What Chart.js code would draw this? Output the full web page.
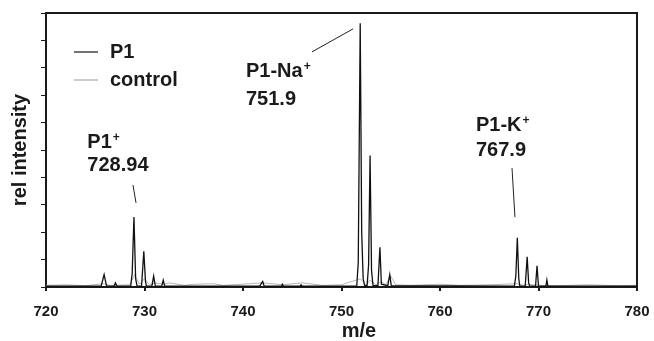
<!DOCTYPE html>
<html>
<head>
<meta charset="utf-8">
<script src="https://cdn.jsdelivr.net/npm/chart.js@4.4.1/dist/chart.umd.min.js"></script>
<style>
  body { margin: 0; background: #fff; }
  canvas { display: block; }
</style>
</head>
<body>
<canvas id="spectrum" width="654" height="341"></canvas>
<script>
// m/e values and relative intensities
const p1Mz = [720, 725.6, 725.9, 726.15, 726.9, 727.05, 727.2, 728.6, 728.75, 728.93, 729.1, 729.25,
  729.7, 729.93, 730.1, 730.2, 730.75, 730.93, 731.1, 731.75, 731.9, 732.05,
  741.7, 741.85, 742.0, 742.15, 743.9, 744.0, 744.1, 745.8, 745.9, 746.0,
  751.55, 751.7, 751.9, 752.05, 752.2, 752.35, 752.6, 752.75, 752.9, 753.05, 753.2,
  753.7, 753.9, 754.05, 754.7, 754.9, 755.05,
  767.55, 767.7, 767.85, 768.0, 768.1, 768.65, 768.85, 769.0, 769.1,
  769.7, 769.85, 770.0, 770.75, 770.85, 770.95, 780];
const p1Int = [0.03, 0.03, 0.45, 0.03, 0.03, 0.15, 0.03, 0.03, 0.5, 2.55, 0.3, 0.03,
  0.03, 1.3, 0.2, 0.03, 0.03, 0.4, 0.03, 0.03, 0.25, 0.03,
  0.03, 0.12, 0.2, 0.03, 0.03, 0.1, 0.03, 0.03, 0.08, 0.03,
  0.03, 0.9, 9.63, 2.0, 0.3, 0.05, 0.05, 0.8, 4.8, 0.6, 0.05,
  0.05, 1.45, 0.1, 0.05, 0.45, 0.05,
  0.03, 0.4, 1.8, 0.3, 0.03, 0.03, 1.1, 0.15, 0.03,
  0.03, 0.77, 0.03, 0.03, 0.25, 0.03, 0.03];

const controlMz = [720, 722, 724, 725.9, 726.5, 728.5, 729, 729.5, 730, 730.5, 731, 732, 732.5,
  734, 735, 737, 738, 742, 744, 746, 748, 750, 751.9, 752.5, 752.9, 753.5, 754, 754.5,
  755, 755.5, 757, 760, 762, 765, 767.8, 768.5, 769, 770, 772, 775, 778, 780];
const controlInt = [0.06, 0.08, 0.05, 0.12, 0.06, 0.08, 0.45, 0.1, 0.3, 0.08, 0.15, 0.1, 0.15,
  0.06, 0.1, 0.12, 0.06, 0.15, 0.08, 0.15, 0.06, 0.08, 0.3, 0.08, 0.25, 0.08, 0.2, 0.08,
  0.4, 0.08, 0.06, 0.1, 0.06, 0.08, 0.12, 0.06, 0.1, 0.06, 0.05, 0.08, 0.05, 0.06];

const xTicks = [720, 730, 740, 750, 760, 770, 780];

// peak labels: text lines and their position in data units
const peakLabels = [
  { lines: ['P1', '728.94'], sup: '+', x: 724.2, y: [5.26, 4.42] },
  { lines: ['P1-Na', '751.9'], sup: '+', x: 740.3, y: [7.85, 6.86] },
  { lines: ['P1-K', '767.9'], sup: '+', x: 763.65, y: [5.9, 4.98] }
];
const leaders = [
  [728.83, 3.72, 729.14, 3.07],
  [747.0, 8.58, 751.17, 9.42],
  [767.31, 4.34, 767.61, 2.55]
];

const ink = '#1a1a1a';
const FONT = 'Liberation Sans, Arial, sans-serif';

const toPts = (xs, ys) => xs.map((x, i) => ({ x: x, y: ys[i] }));

const decorations = {
  id: 'decorations',
  afterDraw(chart) {
    const ctx = chart.ctx;
    const a = chart.chartArea;
    const xs = chart.scales.x, ys = chart.scales.y;
    ctx.save();
    // frame top and right
    ctx.strokeStyle = ink;
    ctx.lineWidth = 2;
    ctx.beginPath();
    ctx.moveTo(a.left, a.top);
    ctx.lineTo(a.right, a.top);
    ctx.lineTo(a.right, a.bottom);
    ctx.stroke();

    // leader lines
    ctx.lineWidth = 1;
    ctx.strokeStyle = '#222';
    leaders.forEach(l => {
      ctx.beginPath();
      ctx.moveTo(xs.getPixelForValue(l[0]), ys.getPixelForValue(l[1]));
      ctx.lineTo(xs.getPixelForValue(l[2]), ys.getPixelForValue(l[3]));
      ctx.stroke();
    });

    // peak labels
    ctx.fillStyle = ink;
    ctx.textBaseline = 'middle';
    ctx.textAlign = 'left';
    peakLabels.forEach(p => {
      const px = xs.getPixelForValue(p.x);
      ctx.font = 'bold 20px ' + FONT;
      const w = ctx.measureText(p.lines[0]).width;
      ctx.fillText(p.lines[0], px, ys.getPixelForValue(p.y[0]));
      ctx.font = 'bold 12px ' + FONT;
      ctx.fillText(p.sup, px + w + 1, ys.getPixelForValue(p.y[0]) - 5);
      ctx.font = 'bold 20px ' + FONT;
      ctx.fillText(p.lines[1], px, ys.getPixelForValue(p.y[1]));
    });

    // legend
    const legend = [['P1', '#444', 52], ['control', '#bbb', 80]];
    legend.forEach(item => {
      ctx.strokeStyle = item[1];
      ctx.lineWidth = 1.5;
      ctx.beginPath();
      ctx.moveTo(74, item[2]);
      ctx.lineTo(98, item[2]);
      ctx.stroke();
      ctx.font = 'bold 20px ' + FONT;
      ctx.fillStyle = ink;
      ctx.fillText(item[0], 110, item[2]);
    });

    // axis titles
    ctx.font = 'bold 20px ' + FONT;
    ctx.textAlign = 'center';
    ctx.fillText('m/e', 359, 331);
    ctx.translate(20, 150);
    ctx.rotate(-Math.PI / 2);
    ctx.fillText('rel intensity', 0, 0);
    ctx.restore();
  }
};

new Chart(document.getElementById('spectrum').getContext('2d'), {
  type: 'scatter',
  data: {
    datasets: [
      {
        label: 'P1',
        data: toPts(p1Mz, p1Int),
        showLine: true,
        borderColor: '#111',
        borderWidth: 1.3,
        pointRadius: 0,
        order: 0
      },
      {
        label: 'control',
        data: toPts(controlMz, controlInt),
        showLine: true,
        borderColor: '#b5b5b5',
        borderWidth: 1,
        pointRadius: 0,
        order: 1
      }
    ]
  },
  options: {
    responsive: false,
    animation: false,
    layout: { padding: { left: 0, right: 17, top: 13, bottom: 0 } },
    plugins: { legend: { display: false }, tooltip: { enabled: false } },
    scales: {
      x: {
        type: 'linear',
        min: 720,
        max: 780,
        afterBuildTicks: s => { s.ticks = xTicks.map(v => ({ value: v })); },
        afterFit: s => { s.height = 54; s.paddingLeft = 0; s.paddingRight = 0; },
        grid: { display: true, drawOnChartArea: false, tickLength: 4, color: ink, lineWidth: 2 },
        border: { display: true, color: ink, width: 2 },
        ticks: { padding: 12, color: ink, font: { family: FONT, size: 15, weight: 'bold' } }
      },
      y: {
        min: 0,
        max: 10,
        ticks: { display: false, stepSize: 1 },
        afterFit: s => { s.width = 46; s.paddingTop = 0; s.paddingBottom = 0; },
        grid: { display: true, drawOnChartArea: false, tickLength: 5, color: ink },
        border: { display: true, color: ink, width: 2 }
      }
    }
  },
  plugins: [decorations]
});
</script>
</body>
</html>
